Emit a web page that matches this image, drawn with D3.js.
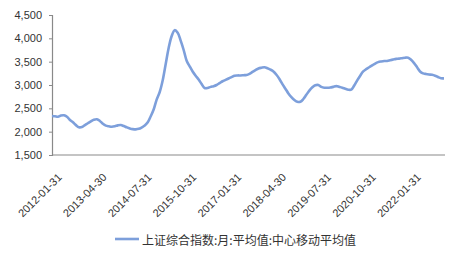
<!DOCTYPE html>
<html>
<head>
<meta charset="utf-8">
<script src="https://cdn.jsdelivr.net/npm/d3@7"></script>
<style>
  body { margin: 0; background: #fff; }
  text { font-family: "Liberation Sans", Arial, sans-serif; fill: #333; }
  .legend text { font-family: "Noto Sans CJK SC", sans-serif; }
</style>
</head>
<body>
<svg id="chart" width="468" height="260"></svg>
<script>
// monthly, 2012-01 .. 2022-12
const startYear = 2012;
const values = [
  2336, 2330, 2320, 2345, 2350, 2320, 2250, 2200, 2140, 2095, 2100, 2140,
  2180, 2220, 2255, 2265, 2230, 2170, 2130, 2115, 2105, 2115, 2135, 2143,
  2120, 2093, 2070, 2055, 2050, 2060, 2090, 2130, 2200, 2330, 2480, 2693,
  2850, 3100, 3450, 3800, 4050, 4175, 4120, 3950, 3750, 3520, 3400, 3290,
  3200, 3120, 3020, 2935, 2935, 2960, 2975, 3000, 3040, 3080, 3110, 3140,
  3170, 3200, 3205, 3205, 3210, 3215, 3240, 3280, 3320, 3355, 3370, 3380,
  3360, 3330, 3290, 3220, 3130, 3020, 2920, 2820, 2740, 2680, 2640, 2640,
  2700, 2790, 2880, 2950, 2995, 3000, 2960, 2943, 2940, 2945, 2960, 2975,
  2960, 2943, 2920, 2900, 2900, 2990, 3100, 3200, 3290, 3340, 3380, 3420,
  3460, 3490, 3505, 3515, 3515, 3530, 3545, 3560, 3565, 3575, 3585, 3585,
  3540, 3470, 3380, 3290, 3250, 3235, 3225, 3218, 3200, 3170, 3145, 3143
];
const yTicks = [1500, 2000, 2500, 3000, 3500, 4000, 4500];
const seriesName = "上证综合指数:月:平均值:中心移动平均值";

// month-end date labels
const dates = values.map((v, i) => {
  const d = new Date(startYear, i + 1, 0);
  return d3.timeFormat("%Y-%m-%d")(d);
});
const xTickLabels = dates.filter((d, i) => i % 15 === 0);

const svg = d3.select("#chart");
const plotLeft = 52, plotRight = 444, plotTop = 15, plotBottom = 155;

const x = d3.scalePoint().domain(dates).range([plotLeft, plotRight]);
const y = d3.scaleLinear().domain([1500, 4500]).range([plotBottom, plotTop]);

// y axis
const yAxis = svg.append("g")
  .attr("transform", `translate(${plotLeft},0)`)
  .call(d3.axisLeft(y).tickValues(yTicks).tickSize(3).tickPadding(7)
    .tickFormat(d3.format(",")));
yAxis.select(".domain").attr("stroke", "#898989").attr("stroke-width", 1.2);
yAxis.selectAll(".tick line").attr("stroke", "#898989");
yAxis.selectAll("text").style("font-size", "11px").attr("fill", "#333");

// x axis
const xAxis = svg.append("g")
  .attr("transform", `translate(0,${plotBottom})`)
  .call(d3.axisBottom(x).tickValues(xTickLabels).tickSize(0).tickPadding(0));
xAxis.select(".domain").attr("stroke", "#898989").attr("stroke-width", 1.2)
  .attr("d", `M${plotLeft},0H${plotRight + 1}`);
xAxis.selectAll("text")
  .style("font-size", "11px")
  .attr("fill", "#333")
  .attr("text-anchor", "end")
  .attr("dy", 0)
  .attr("y", 0)
  .attr("transform", "translate(10,23) rotate(-45)");

// line
const line = d3.line()
  .x((d, i) => x(dates[i]))
  .y(d => y(d))
  .curve(d3.curveCatmullRom);

svg.append("path")
  .datum(values)
  .attr("fill", "none")
  .attr("stroke", "#7d9fdb")
  .attr("stroke-width", 2.6)
  .attr("stroke-linejoin", "round")
  .attr("d", line);

// legend
const legend = svg.append("g").attr("class", "legend");
legend.append("line")
  .attr("x1", 115).attr("x2", 139)
  .attr("y1", 239).attr("y2", 239)
  .attr("stroke", "#7d9fdb").attr("stroke-width", 2.6);
legend.append("text")
  .attr("x", 142).attr("y", 245)
  .style("font-size", "12px")
  .text(seriesName);
</script>
</body>
</html>
